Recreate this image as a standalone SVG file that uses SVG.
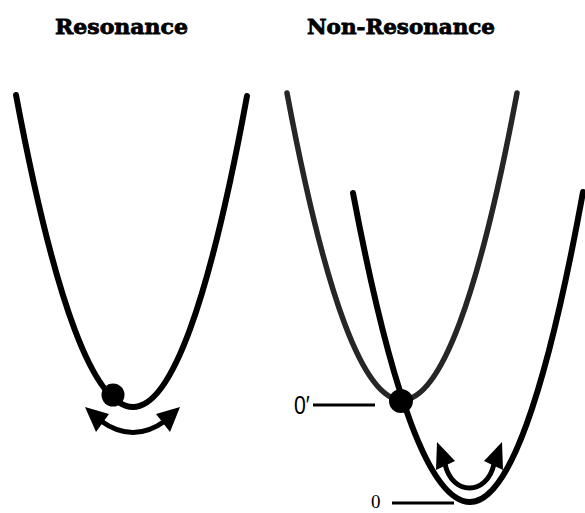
<svg xmlns="http://www.w3.org/2000/svg" width="585" height="513" viewBox="0 0 585 513">
<style>
.title{font-family:"DejaVu Serif","Liberation Serif",serif;font-weight:bold;font-size:21px;fill:#000;stroke:#000;stroke-width:0.8}
.curve{fill:none;stroke:#000;stroke-width:6;stroke-linecap:round}
.grey{fill:none;stroke:#262626;stroke-width:5.5;stroke-linecap:round}
.arc{fill:none;stroke:#000;stroke-width:5}
.head{fill:#000}
.lvl{stroke:#000;stroke-width:3}
.lbl{font-family:"Liberation Sans",Arial,sans-serif;font-size:25px;fill:#000}
</style>
<rect width="585" height="513" fill="#fff"/>
<g id="title-resonance"><text class="title" x="55" y="34" textLength="133" lengthAdjust="spacingAndGlyphs">Resonance</text></g>
<g id="title-nonresonance"><text class="title" x="307" y="34" textLength="188" lengthAdjust="spacingAndGlyphs">Non-Resonance</text></g>
<g id="resonance-well">
<path class="curve" d="M16,95 Q74.5,407 133,407 Q190,407 247,96"/>
<circle cx="113" cy="395" r="11.5" fill="#000"/>
</g>
<g id="resonance-arrow">
<path class="arc" d="M101,421 Q133,444 165,421"/>
<polygon class="head" points="85,407 96,432 109,414"/>
<polygon class="head" points="180,407 170,432 156,414"/>
</g>
<g id="excited-well">
<path class="grey" d="M287,93 Q344.5,400 402,400 Q459.5,400 517,93"/>
</g>
<g id="ground-well">
<path class="curve" d="M353,193 Q411.5,502 470,502 Q526.5,502 583,192"/>
</g>
<g id="crossing-ball"><circle cx="401" cy="401" r="12" fill="#000"/></g>
<g id="nonres-arrow">
<path class="arc" d="M445,464 C452,496 487,496 494,464"/>
<polygon class="head" points="437,442 436,470 455,461"/>
<polygon class="head" points="502,442 503,470 484,461"/>
</g>
<g id="level-0prime">
<text class="lbl" x="294" y="414" transform="translate(294 0) scale(0.85 1) translate(-294 0)">0′</text>
<line class="lvl" x1="313" y1="405" x2="375" y2="405"/>
</g>
<g id="level-0">
<text x="371" y="508" style="font-family:'Liberation Serif','Times New Roman',serif;font-size:19px;fill:#000">0</text>
<line class="lvl" x1="392" y1="503" x2="454" y2="503"/>
</g>
</svg>
